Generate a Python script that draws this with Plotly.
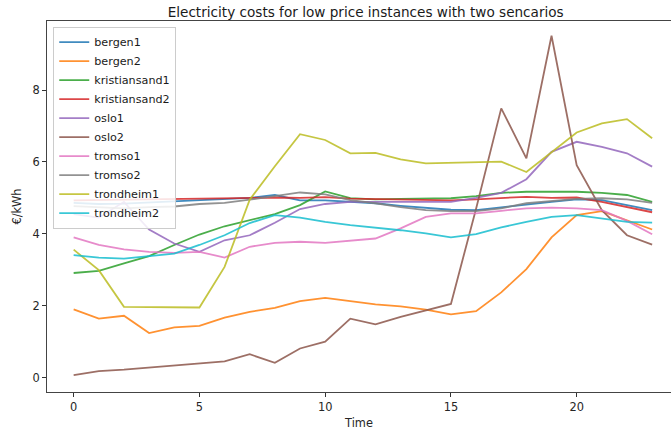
import plotly.graph_objects as go

time = list(range(24))

bergen1 = [4.86, 4.83, 4.84, 4.87, 4.90, 4.93, 4.97, 5.00, 5.08, 4.93, 4.93, 4.90, 4.85, 4.78,
           4.72, 4.67, 4.66, 4.74, 4.83, 4.89, 4.96, 4.94, 4.80, 4.66]
bergen2 = [1.90, 1.64, 1.72, 1.24, 1.40, 1.44, 1.67, 1.83, 1.94, 2.13, 2.22, 2.12, 2.04, 1.98,
           1.89, 1.76, 1.85, 2.37, 3.02, 3.90, 4.52, 4.63, 4.38, 4.12]
kristiansand1 = [2.91, 2.97, 3.18, 3.38, 3.69, 3.98, 4.21, 4.38, 4.55, 4.80, 5.18, 4.99, 4.96,
                 4.97, 4.99, 4.99, 5.05, 5.14, 5.17, 5.18, 5.17, 5.14, 5.08, 4.89]
kristiansand2 = [4.93, 4.94, 4.95, 4.96, 4.98, 5.00, 4.99, 5.00, 5.01, 5.00, 5.02, 4.98, 4.97,
                 4.96, 4.95, 4.93, 4.96, 4.99, 5.03, 5.00, 5.01, 4.89, 4.75, 4.60]
oslo1 = [4.55, 4.45, 4.89, 4.12, 3.73, 3.50, 3.82, 3.96, 4.31, 4.69, 4.83, 4.89, 4.89, 4.89,
         4.87, 4.89, 5.00, 5.14, 5.52, 6.28, 6.56, 6.42, 6.24, 5.87]
oslo2 = [0.07, 0.18, 0.22, 0.28, 0.33, 0.39, 0.45, 0.65, 0.41, 0.81, 1.00, 1.64, 1.48, 1.69,
         1.87, 2.05, 4.70, 7.49, 6.10, 9.51, 5.91, 4.66, 3.96, 3.70]
tromso1 = [3.90, 3.69, 3.57, 3.50, 3.47, 3.50, 3.34, 3.64, 3.75, 3.78, 3.75, 3.80, 3.87, 4.15,
           4.47, 4.57, 4.57, 4.64, 4.71, 4.73, 4.71, 4.66, 4.36, 3.99]
tromso2 = [4.77, 4.74, 4.71, 4.74, 4.76, 4.83, 4.86, 4.95, 5.05, 5.15, 5.10, 4.94, 4.85, 4.74,
           4.66, 4.63, 4.63, 4.71, 4.85, 4.92, 4.97, 4.99, 4.96, 4.86]
trondheim1 = [3.56, 2.99, 1.97, 1.96, 1.95, 1.95, 3.08, 4.95, 5.88, 6.77, 6.61, 6.24, 6.25, 6.07,
              5.96, 5.97, 5.99, 6.01, 5.72, 6.28, 6.82, 7.07, 7.19, 6.66]
trondheim2 = [3.41, 3.34, 3.31, 3.38, 3.45, 3.69, 3.96, 4.30, 4.52, 4.45, 4.33, 4.24, 4.18, 4.10,
              4.01, 3.90, 3.99, 4.18, 4.33, 4.47, 4.52, 4.43, 4.33, 4.31]

series_names = ["bergen1", "bergen2", "kristiansand1", "kristiansand2", "oslo1",
                "oslo2", "tromso1", "tromso2", "trondheim1", "trondheim2"]
series_values = [bergen1, bergen2, kristiansand1, kristiansand2, oslo1,
                 oslo2, tromso1, tromso2, trondheim1, trondheim2]
colors = ["#1f77b4", "#ff7f0e", "#2ca02c", "#d62728", "#9467bd",
          "#8c564b", "#e377c2", "#7f7f7f", "#bcbd22", "#17becf"]

x_ticks = [0, 5, 10, 15, 20]
y_ticks = [0, 2, 4, 6, 8]

font = "DejaVu Sans"
fig = go.Figure()
for name, vals, c in zip(series_names, series_values, colors):
    fig.add_trace(go.Scatter(x=time, y=vals, mode="lines", name=name, opacity=0.85,
                             line=dict(color=c, width=1.8)))

fig.update_layout(
    width=671, height=434,
    margin=dict(l=47, r=0, t=21, b=42),
    paper_bgcolor="white", plot_bgcolor="white",
    font=dict(family=font, size=11.4, color="#262626"),
    title=dict(text="Electricity costs for low price instances with two sencarios",
               x=0.545, xref="container", xanchor="center",
               y=0.982, yref="container", yanchor="top",
               font=dict(size=13.6, color="#1a1a1a")),
    legend=dict(x=0.01, y=0.985, xanchor="left", yanchor="top",
                bgcolor="rgba(255,255,255,0.85)", bordercolor="#cccccc",
                borderwidth=1, font=dict(size=11.2, color="#1a1a1a"),
                tracegroupgap=0),
    showlegend=True,
)
fig.update_xaxes(range=[-1.06, 23.75], tickvals=x_ticks, ticks="outside", ticklen=4,
                 tickcolor="#333", showline=True, linecolor="#444", linewidth=1,
                 mirror=True, showgrid=False, zeroline=False,
                 title=dict(text="Time", standoff=6, font=dict(size=11.4)))
fig.update_yaxes(range=[-0.40, 9.92], tickvals=y_ticks, ticks="outside", ticklen=4,
                 tickcolor="#333", showline=True, linecolor="#444", linewidth=1,
                 mirror=False, showgrid=False, zeroline=False,
                 title=dict(text="€/kWh", standoff=8, font=dict(size=11.4)))

fig.write_html("out.html")
